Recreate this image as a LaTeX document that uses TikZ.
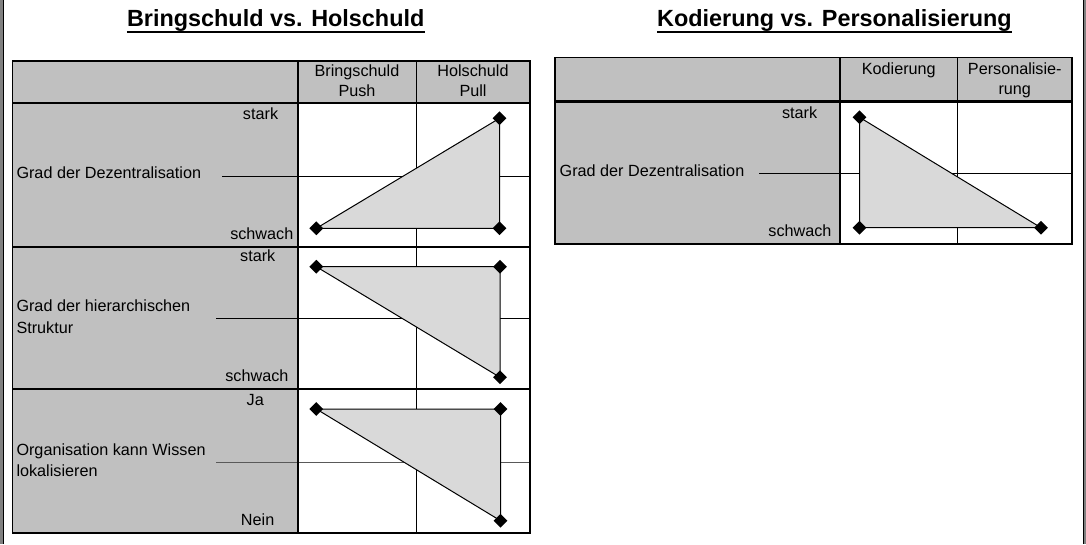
\documentclass[tikz,border=0pt]{standalone}
\usepackage{fontspec}
\setmainfont{Liberation Sans}
\usetikzlibrary{shapes.geometric}
\definecolor{cellgray}{HTML}{C0C0C0}
\definecolor{trifill}{HTML}{D9D9D9}
\definecolor{framegray}{HTML}{808080}
\begin{document}
\begin{tikzpicture}[x=1pt,y=-1pt,
  lbl/.style={inner sep=0pt, font=\fontsize{16.2}{19}\selectfont},
  ttl/.style={inner sep=0pt, font=\fontsize{23.4}{28}\selectfont\bfseries},
  dmd/.style={diamond, fill=black, draw=none, inner sep=0pt, minimum width=14pt, minimum height=14pt},
  gridline/.style={line width=1pt, black},
  midline/.style={line width=1pt, black},
  sepline/.style={line width=2.7pt, black},
  colsep/.style={line width=2pt, black},
  border/.style={line width=1.6pt, black},
  tri/.style={fill=trifill, draw=black, line width=1pt, line join=miter}
]
\useasboundingbox (0,0) rectangle (1086,544);
\fill[white] (0,0) rectangle (1086,544);
% page frame
\fill[framegray] (0,0) rectangle (3,544);
\draw[line width=1pt, black] (3.5,0) -- (3.5,544);
\draw[line width=1pt, black] (1083,0) -- (1083,544);
\draw[line width=2pt, framegray] (1085,0) -- (1085,544);

% ===== titles =====
\node[ttl, anchor=base] (t1) at (275.7,26.7) {Bringschuld vs. Holschuld};
\draw[line width=2pt] ([yshift=-5pt]t1.base west) -- ([yshift=-5pt]t1.base east);
\node[ttl, anchor=base] (t2) at (834.5,26.7) {Kodierung vs. Personalisierung};
\draw[line width=2pt] ([yshift=-5pt]t2.base west) -- ([yshift=-5pt]t2.base east);

% ===== left table =====
\fill[cellgray] (12.5,60.7) rectangle (530,103);
\fill[cellgray] (12.5,103) rectangle (298,533);
\draw[gridline] (416,60.7) -- (416,533);
\coordinate (a1) at (222,176.7);   \coordinate (a1e) at (530,176.7);
\coordinate (a2) at (216,318.3);   \coordinate (a2e) at (530,318.3);
\coordinate (a3) at (216,462.3);   \coordinate (a3e) at (530,462.3);
\draw[midline] (a1) -- (a1e);
\draw[midline] (a2) -- (a2e);
\draw[midline, black!65] (a3) -- (a3e);

% triangles
\coordinate (p1) at (316.3,228.3); \coordinate (q1) at (499.5,118.3); \coordinate (r1) at (499.5,228.3);
\filldraw[tri] (p1) -- (q1) -- (r1) -- cycle;
\coordinate (p2) at (316.3,266.7); \coordinate (q2) at (500,266.7); \coordinate (r2) at (500,377.3);
\filldraw[tri] (p2) -- (q2) -- (r2) -- cycle;
\coordinate (p3) at (316.3,409); \coordinate (q3) at (500.5,409); \coordinate (r3) at (500.5,520.7);
\filldraw[tri] (p3) -- (q3) -- (r3) -- cycle;
\foreach \c in {p1,q1,r1,p2,q2,r2,p3,q3,r3} \node[dmd] (d\c) at (\c) {};

% borders
\draw[colsep] (298,60.7) -- (298,533);
\draw[sepline] (12.5,103) -- (530,103);
\draw[sepline] (12.5,247) -- (530,247);
\draw[sepline] (12.5,389) -- (530,389);
\draw[border] (12.5,60.7) rectangle (530,533);

% header texts
\node[lbl, anchor=base] (h1a) at (357,76) {Bringschuld};
\node[lbl, anchor=base] (h1b) at (357,96) {Push};
\node[lbl, anchor=base] (h2a) at (473,76) {Holschuld};
\node[lbl, anchor=base] (h2b) at (473,96) {Pull};

% row labels
\node[lbl, anchor=base east] (s1) at (278.3,119.3) {stark};
\node[lbl, anchor=base east] (w1) at (293.5,239.5) {schwach};
\node[lbl, anchor=base west] (g1) at (16.3,178.3) {Grad der Dezentralisation};
\node[lbl, anchor=base east] (s2) at (275.5,261.6) {stark};
\node[lbl, anchor=base east] (w2) at (288.6,381.6) {schwach};
\node[lbl, anchor=base west] (g2a) at (16.3,311.3) {Grad der hierarchischen};
\node[lbl, anchor=base west] (g2b) at (16.3,333) {Struktur};
\node[lbl, anchor=base east] (s3) at (264,405.6) {Ja};
\node[lbl, anchor=base east] (w3) at (274.5,525.6) {Nein};
\node[lbl, anchor=base west] (g3a) at (16.3,455) {Organisation kann Wissen};
\node[lbl, anchor=base west] (g3b) at (16.3,476.6) {lokalisieren};

% ===== right table =====
\fill[cellgray] (555,57.3) rectangle (1072,101.7);
\fill[cellgray] (555,101.7) rectangle (840,244);
\draw[gridline] (957.5,57.3) -- (957.5,244);
\coordinate (b1) at (759.4,173.3); \coordinate (b1e) at (1072,173.3);
\draw[midline] (b1) -- (b1e);
\coordinate (p4) at (859.5,117.3); \coordinate (q4) at (859.5,227.7); \coordinate (r4) at (1041,227.7);
\filldraw[tri] (p4) -- (q4) -- (r4) -- cycle;
\foreach \c in {p4,q4,r4} \node[dmd] (d\c) at (\c) {};
\draw[colsep] (840,57.3) -- (840,244);
\draw[sepline] (555,101.7) -- (1072,101.7);
\draw[border] (555,57.3) rectangle (1072,244);

\node[lbl, anchor=base] (k1) at (898.75,74) {Kodierung};
\node[lbl, anchor=base] (k2a) at (1014.75,74) {Personalisie-};
\node[lbl, anchor=base] (k2b) at (1014.75,94) {rung};
\node[lbl, anchor=base east] (s4) at (817.4,118.3) {stark};
\node[lbl, anchor=base east] (w4) at (831.7,236.6) {schwach};
\node[lbl, anchor=base west] (g4) at (559.5,176.6) {Grad der Dezentralisation};
\end{tikzpicture}
\end{document}
